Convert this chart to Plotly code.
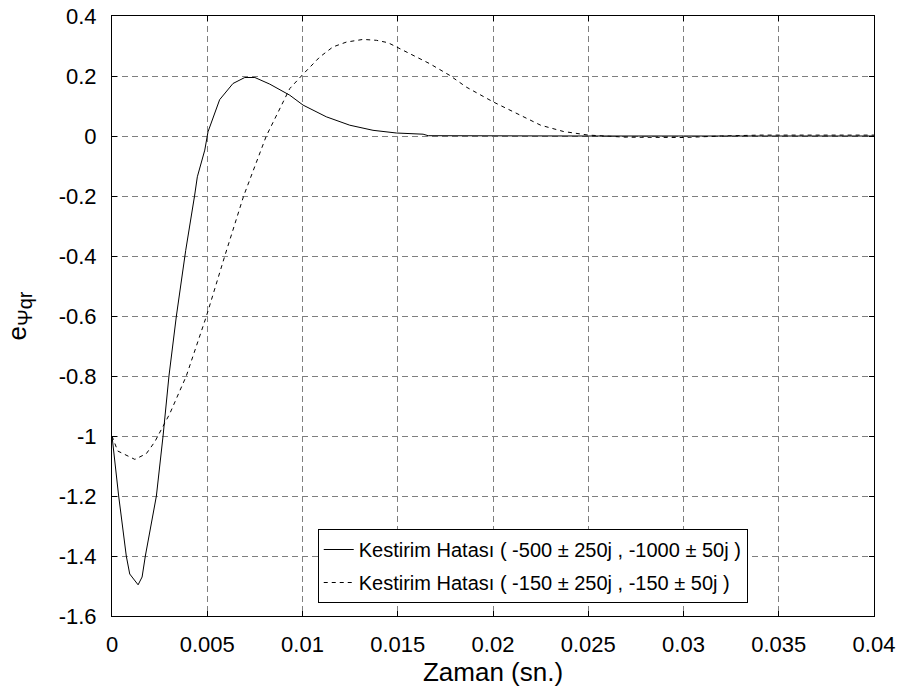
import plotly.graph_objects as go

# Solid curve: Kestirim Hatası ( -500 ± 250j , -1000 ± 50j )
t1 = [0.0, 0.00035, 0.00075, 0.00093, 0.00137, 0.00158, 0.00175, 0.00233, 0.00268,
      0.00299, 0.00338, 0.00387, 0.00434, 0.00448, 0.00487, 0.00504, 0.00565, 0.00635,
      0.00697, 0.0075, 0.00828, 0.00933, 0.01003, 0.01125, 0.01248, 0.0137, 0.01493,
      0.01633, 0.0166, 0.02, 0.025, 0.03, 0.035, 0.04]
y1 = [-1.0, -1.2, -1.4, -1.46, -1.496, -1.47, -1.4, -1.2, -1.0,
      -0.8, -0.6, -0.381, -0.197, -0.136, -0.047, 0.014, 0.121, 0.175,
      0.195, 0.195, 0.173, 0.136, 0.103, 0.064, 0.036, 0.019, 0.010,
      0.006, 0.001, 0.0, 0.0, 0.0, 0.0, 0.0]

# Dashed curve: Kestirim Hatası ( -150 ± 250j , -150 ± 50j )
t2 = [0.0, 0.0003, 0.0012, 0.0018, 0.00224, 0.00272, 0.00303, 0.0039, 0.00496,
      0.00592, 0.00691, 0.0081, 0.00933, 0.00994, 0.0109, 0.0116, 0.0123, 0.01318,
      0.01388, 0.01449, 0.01493, 0.0158, 0.01668, 0.01773, 0.0186, 0.02, 0.0215,
      0.0225, 0.0237, 0.025, 0.027, 0.03, 0.032, 0.034, 0.037, 0.04]
y2 = [-1.0, -1.05, -1.078, -1.059, -1.02, -0.964, -0.926, -0.8, -0.6,
      -0.4, -0.2, 0.0, 0.158, 0.2, 0.263, 0.297, 0.313, 0.322,
      0.319, 0.311, 0.297, 0.269, 0.241, 0.202, 0.163, 0.114, 0.066,
      0.036, 0.015, 0.003, -0.004, -0.005, 0.0, 0.003, 0.003, 0.003]

names = ["Kestirim Hatası ( -500 ± 250j , -1000 ± 50j )",
         "Kestirim Hatası ( -150 ± 250j , -150 ± 50j )"]

x_ticks = [0, 0.005, 0.01, 0.015, 0.02, 0.025, 0.03, 0.035, 0.04]
x_labels = ["0", "0.005", "0.01", "0.015", "0.02", "0.025", "0.03", "0.035", "0.04"]
y_ticks = [0.4, 0.2, 0, -0.2, -0.4, -0.6, -0.8, -1, -1.2, -1.4, -1.6]
y_labels = ["0.4", "0.2", "0", "-0.2", "-0.4", "-0.6", "-0.8", "-1", "-1.2", "-1.4", "-1.6"]

FONT = "Liberation Sans, Arial, sans-serif"

fig = go.Figure()
fig.add_trace(go.Scatter(x=t1, y=y1, mode="lines", name=names[0], legendgroup="a",
                         line=dict(color="black", width=1)))
fig.add_trace(go.Scatter(x=t2, y=y2, mode="lines", name=names[1], legendgroup="b",
                         line=dict(color="black", width=1, dash="4px,4px")))

axis_common = dict(
    showline=True, linecolor="black", linewidth=1, mirror="ticks",
    ticks="inside", ticklen=5, tickcolor="black", tickwidth=1,
    showgrid=True, gridcolor="#7f7f7f", gridwidth=1, griddash="6px,4px",
    zeroline=False, automargin=False,
    tickfont=dict(family=FONT, size=22, color="black"),
)

fig.update_xaxes(range=[0, 0.04], tickvals=x_ticks, ticktext=x_labels,
                 title=dict(text="Zaman (sn.)", font=dict(family=FONT, size=26, color="black"), standoff=6),
                 ticklabelstandoff=9, **axis_common)
fig.update_yaxes(range=[-1.6, 0.4], tickvals=y_ticks, ticktext=y_labels,
                 title=dict(text="e<sub><span style='font-size:20px'>Ψqr</span></sub>",
                            font=dict(family=FONT, size=26, color="black"), standoff=24),
                 ticklabelstandoff=10, **axis_common)

fig.update_layout(
    width=901, height=696,
    margin=dict(l=112, r=27, t=16, b=80),
    paper_bgcolor="white", plot_bgcolor="white",
    font=dict(family=FONT, size=20, color="black"),
    showlegend=True,
    legend=dict(x=0.27, y=0.145, xanchor="left", yanchor="top",
                bgcolor="white", bordercolor="black", borderwidth=1,
                font=dict(family=FONT, size=20, color="black"),
                tracegroupgap=4),
)

fig.write_html("out.html")
